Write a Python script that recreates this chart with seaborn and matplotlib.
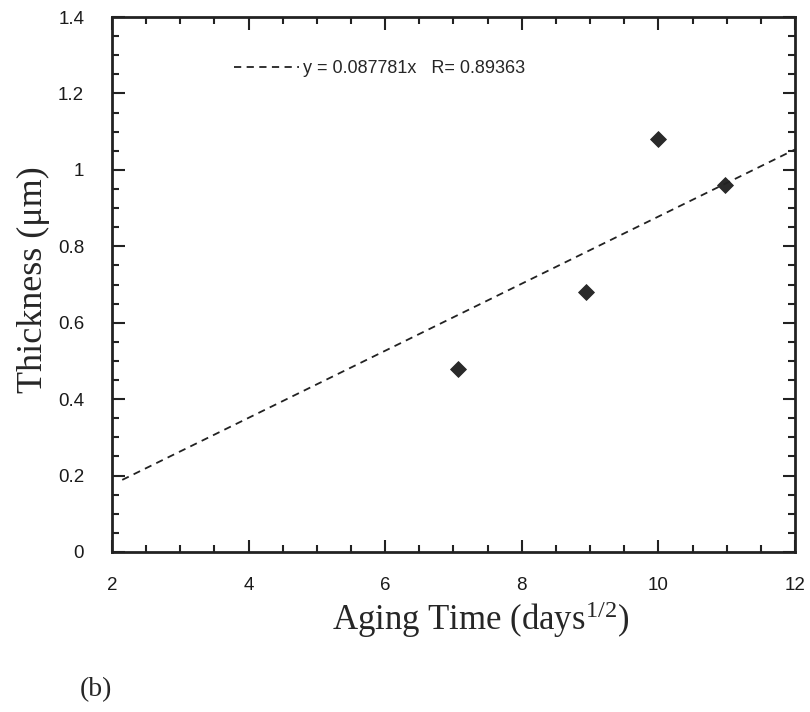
import numpy as np
import pandas as pd
import seaborn as sns
import matplotlib.pyplot as plt
from matplotlib.ticker import MultipleLocator

# measured points (sqrt of aging days vs thickness)
aging_time = [7.07, 8.94, 10.0, 10.97]
thickness = [0.48, 0.68, 1.08, 0.96]

# fit through origin
slope = 0.087781
r_value = 0.89363
fit_x = [2.15, 12.0]

x_ticks = [2, 4, 6, 8, 10, 12]
x_ticklabels = ['2', '4', '6', '8', '10', '12']
y_ticks = [0, 0.2, 0.4, 0.6, 0.8, 1.0, 1.2, 1.4]
y_ticklabels = ['0', '0.2', '0.4', '0.6', '0.8', '1', '1.2', '1.4']

df = pd.DataFrame({'x': aging_time, 'y': thickness})
fit = pd.DataFrame({'x': fit_x, 'y': [slope * v for v in fit_x]})

sns.set_style('ticks')
plt.rcParams['font.family'] = ['Liberation Sans', 'DejaVu Sans']
plt.rcParams['mathtext.fontset'] = 'custom'
plt.rcParams['mathtext.rm'] = 'Liberation Serif'

fig = plt.figure(figsize=(8.1, 7.12), dpi=100)
ax = fig.add_axes([112 / 810, 1 - 552 / 712, 683 / 810, 535 / 712])

sns.lineplot(data=fit, x='x', y='y', ax=ax, color='#222222', lw=1.3,
             linestyle=(0, (4, 3)), label=f'y = {slope}x   R= {r_value}')
sns.scatterplot(data=df, x='x', y='y', ax=ax, marker='D', s=65,
                color='#2a2a2a', edgecolor='#2a2a2a', legend=False)

ax.set_xlim(2, 12)
ax.set_ylim(0, 1.4)
ax.set_xticks(x_ticks)
ax.set_xticklabels(x_ticklabels)
ax.set_yticks(y_ticks)
ax.set_yticklabels(y_ticklabels)
ax.xaxis.set_minor_locator(MultipleLocator(0.5))
ax.yaxis.set_minor_locator(MultipleLocator(0.05))
ax.tick_params(which='both', direction='in', top=True, right=True,
               labelsize=13.5, width=1.5, color='#222222', labelcolor='#1a1a1a')
ax.tick_params(axis='x', which='major', pad=18)
ax.tick_params(axis='y', which='major', pad=20)
ax.tick_params(which='major', length=9)
ax.tick_params(which='minor', length=5)
for sp in ax.spines.values():
    sp.set_linewidth(2)
    sp.set_color('#222222')

ax.set_xlabel('Aging Time (days$\\mathrm{^{1/2}}$)', family='Liberation Serif',
              fontsize=25)
ax.xaxis.set_label_coords((481 - 112) / 683, -0.088)
ax.set_ylabel('Thickness (\u03bcm)', family='Liberation Serif', fontsize=26)
ax.yaxis.set_label_coords(-(112 - 50) / 683, 0.51)

leg = ax.legend(loc='upper left', bbox_to_anchor=(0.155, 0.95), frameon=False,
                fontsize=13, handlelength=3.6, handletextpad=0.2)

fig.text(80 / 810, 1 - 690 / 712, '(b)', family='Liberation Serif',
         fontsize=20, va='center')

fig.savefig('out.png', dpi=100)
